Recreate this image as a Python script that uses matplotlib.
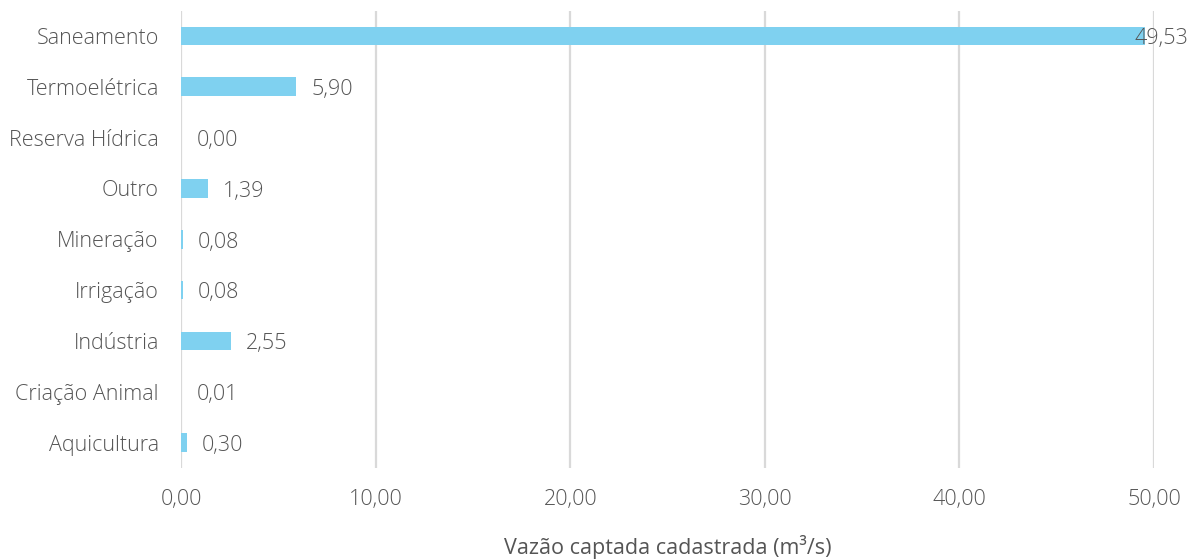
import matplotlib
matplotlib.use("Agg")
import matplotlib.pyplot as plt
from matplotlib.ticker import FixedLocator, FuncFormatter

plt.rcParams['font.family'] = ['Open Sans', 'DejaVu Sans']
plt.rcParams['font.weight'] = 'light'

categories = ["Saneamento", "Termoelétrica", "Reserva Hídrica", "Outro", "Mineração",
              "Irrigação", "Indústria", "Criação Animal", "Aquicultura"]
values = [49.53, 5.90, 0.00, 1.39, 0.08, 0.08, 2.55, 0.01, 0.30]
x_ticks = [0, 10, 20, 30, 40, 50]
x_label = "Vazão captada cadastrada (m³/s)"

bar_color = "#7FD1F0"
text_color = "#555555"
grid_color = "#D9D9D9"

def br_fmt(v):
    return f"{v:.2f}".replace(".", ",")

fig = plt.figure(figsize=(11.9, 5.59), dpi=100)
ax = fig.add_axes([181 / 1190, 1 - 468 / 559, (1154 - 181) / 1190, (468 - 10.5) / 559])

ypos = list(range(len(categories)))
ax.barh(ypos, values, height=0.37, color=bar_color, zorder=3)
ax.set_ylim(len(categories) - 0.5, -0.5)
ax.set_xlim(0, 50)
ax.set_yticks(ypos)
ax.set_yticklabels(categories)
ax.xaxis.set_major_locator(FixedLocator(x_ticks))
ax.xaxis.set_major_formatter(FuncFormatter(lambda v, p: br_fmt(v)))

for s in ax.spines.values():
    s.set_visible(False)
ax.grid(axis="x", color=grid_color, linewidth=1.6, zorder=0)
ax.tick_params(axis="both", length=0, labelsize=15.5, labelcolor=text_color)
ax.tick_params(axis="y", pad=16)
ax.tick_params(axis="x", pad=15)
ax.set_xlabel(x_label, fontsize=15.5, color=text_color, labelpad=18)

fig.canvas.draw()
renderer = fig.canvas.get_renderer()
fig_w = fig.bbox.width
label_dy = -2
for y, v in zip(ypos, values):
    t = ax.annotate(br_fmt(v), xy=(v, y), xytext=(11, label_dy), textcoords="offset points",
                    ha="left", va="center", fontsize=15.5, color=text_color, zorder=4)
    bb = t.get_window_extent(renderer)
    if bb.x1 > fig_w - 2:
        t.set_position((11 - (bb.x1 - (fig_w - 2)) * 72 / fig.dpi, label_dy))

fig.savefig("out.png", dpi=100)
